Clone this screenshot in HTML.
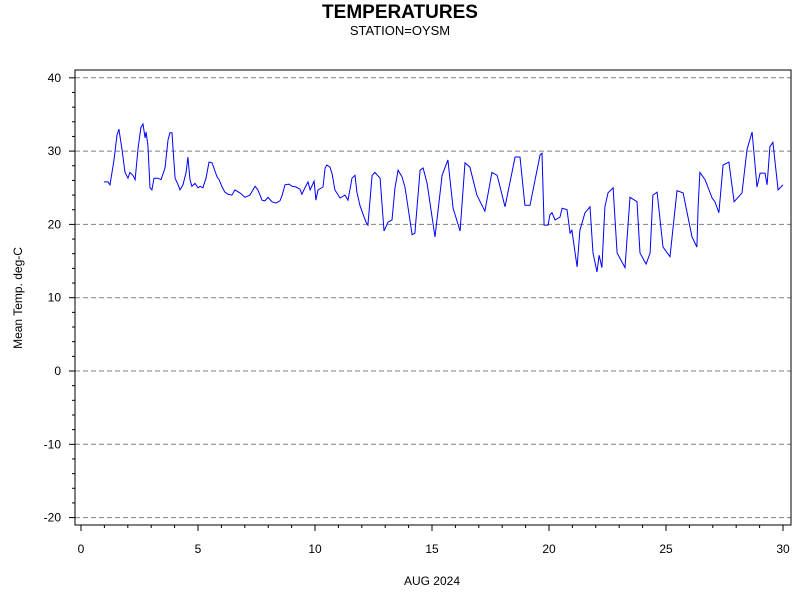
<!DOCTYPE html>
<html><head><meta charset="utf-8"><style>
body{margin:0;background:#fff}
svg text{font-family:"Liberation Sans",sans-serif}
</style></head><body>
<svg id="chart" width="800" height="600" xmlns="http://www.w3.org/2000/svg">
<rect width="800" height="600" fill="#fff"/>
<text x="400" y="18" text-anchor="middle" font-size="19" font-weight="bold">TEMPERATURES</text>
<text x="400" y="35" text-anchor="middle" font-size="13">STATION=OYSM</text>
<g id="grid"></g>
<g id="axes"></g>
<rect x="75" y="70" width="716" height="455" fill="none" stroke="#000" stroke-width="1"/>
<text transform="translate(22,298) rotate(-90)" text-anchor="middle" font-size="12">Mean Temp. deg-C</text>
<text x="432" y="585" text-anchor="middle" font-size="12">AUG 2024</text>
</svg>
<script>
const xTicks=[0,5,10,15,20,25,30];
const yTicks=[-20,-10,0,10,20,30,40];
const days=[0.98,1.15,1.24,1.41,1.54,1.62,1.75,1.88,2.01,2.09,2.22,2.31,2.44,2.56,2.65,2.74,2.78,2.86,2.95,3.03,3.12,3.29,3.42,3.59,3.72,3.80,3.89,3.93,4.02,4.15,4.23,4.36,4.49,4.57,4.66,4.74,4.87,5.00,5.09,5.21,5.34,5.47,5.60,5.68,5.81,5.90,6.03,6.15,6.28,6.45,6.58,6.79,7.01,7.22,7.44,7.56,7.74,7.86,7.99,8.16,8.33,8.50,8.59,8.72,8.89,9.02,9.19,9.36,9.44,9.57,9.70,9.79,9.96,10.04,10.13,10.34,10.43,10.51,10.64,10.73,10.85,11.07,11.28,11.41,11.58,11.71,11.79,11.92,12.05,12.18,12.26,12.44,12.56,12.78,12.95,13.12,13.29,13.42,13.55,13.72,13.85,14.15,14.27,14.49,14.62,14.79,15.13,15.43,15.68,15.90,16.20,16.41,16.62,16.92,17.26,17.56,17.78,17.91,18.12,18.55,18.76,18.97,19.19,19.62,19.70,19.79,19.96,20.04,20.13,20.26,20.47,20.56,20.77,20.90,20.98,21.20,21.32,21.54,21.75,21.88,22.05,22.14,22.26,22.39,22.52,22.74,22.91,23.25,23.46,23.76,23.89,24.15,24.32,24.44,24.62,24.87,25.17,25.47,25.73,26.11,26.32,26.37,26.45,26.67,26.97,27.09,27.26,27.44,27.69,27.91,28.08,28.25,28.46,28.68,28.89,29.02,29.23,29.32,29.44,29.57,29.79,30.00];
const temps=[25.8,25.8,25.4,28.8,32.2,33.0,30.2,27.1,26.3,27.1,26.7,26.1,30.4,33.2,33.7,31.8,32.6,30.8,25.0,24.7,26.3,26.3,26.1,27.7,31.5,32.5,32.5,30.4,26.3,25.4,24.7,25.4,27.1,29.2,26.1,25.2,25.6,25.0,25.2,25.0,26.3,28.5,28.4,27.7,26.5,26.1,25.1,24.4,24.1,24.0,24.7,24.3,23.7,24.0,25.2,24.7,23.3,23.2,23.7,23.1,22.9,23.2,23.9,25.4,25.5,25.2,25.1,24.8,24.1,25.0,25.8,24.7,25.9,23.3,24.7,25.1,27.7,28.1,27.8,26.9,24.7,23.6,24.0,23.3,26.3,26.7,24.4,22.6,21.4,20.3,19.9,26.7,27.1,26.3,19.1,20.3,20.6,25.0,27.4,26.5,25.0,18.6,18.8,27.4,27.7,25.6,18.3,26.7,28.8,22.2,19.1,28.4,27.8,24.0,21.8,27.1,26.7,25.1,22.4,29.2,29.2,22.6,22.6,29.5,29.7,19.9,19.9,21.3,21.6,20.6,21.0,22.2,22.0,18.8,19.2,14.2,19.2,21.6,22.4,16.1,13.5,15.8,14.1,22.4,24.3,25.0,16.1,14.1,23.7,23.1,16.1,14.6,16.1,24.0,24.4,16.9,15.6,24.6,24.3,18.3,16.9,22.4,27.1,26.1,23.6,23.1,21.6,28.1,28.5,23.1,23.7,24.3,30.2,32.6,25.1,27.0,27.0,25.4,30.6,31.2,24.7,25.4];
const NS="http://www.w3.org/2000/svg";
const X=d=>81+d*(783-81)/30;
const Y=t=>371-t*7.33;
const svg=document.getElementById('chart');
const grid=document.getElementById('grid');
const axes=document.getElementById('axes');
function mk(tag,attrs,parent){const e=document.createElementNS(NS,tag);for(const k in attrs)e.setAttribute(k,attrs[k]);parent.appendChild(e);return e;}
yTicks.forEach(v=>{
  const g=mk('line',{x1:75,x2:791,y1:Y(v),y2:Y(v),stroke:'#808080','stroke-dasharray':'5,3'},grid);
  
  
  const t=mk('line',{x1:69,x2:75,y1:Y(v),y2:Y(v),stroke:'#000'},axes);
  
  
  const l=mk('text',{x:61,y:Y(v)+4,'text-anchor':'end','font-size':12},axes);
  l.textContent=v;
  
  
});
for(let v=-20;v<=40;v+=2){if(v%10===0)continue;
  const m=mk('line',{x1:72,x2:75,y1:Y(v),y2:Y(v),stroke:'#000'},axes);
  
  
}
xTicks.forEach(v=>{
  const t=mk('line',{x1:X(v),x2:X(v),y1:525,y2:531,stroke:'#000'},axes);
  
  
  const l=mk('text',{x:X(v),y:553,'text-anchor':'middle','font-size':12},axes);
  l.textContent=v;
  
  
});
for(let v=1;v<30;v++){if(v%5===0)continue;
  const m=mk('line',{x1:X(v),x2:X(v),y1:525,y2:528,stroke:'#000'},axes);
  
  
}
const pts=days.map((d,i)=>X(d).toFixed(1)+','+Y(temps[i]).toFixed(1)).join(' ');
const line=mk('polyline',{points:pts,fill:'none',stroke:'#0000ff','stroke-width':1},svg);


</script>
</body></html>
